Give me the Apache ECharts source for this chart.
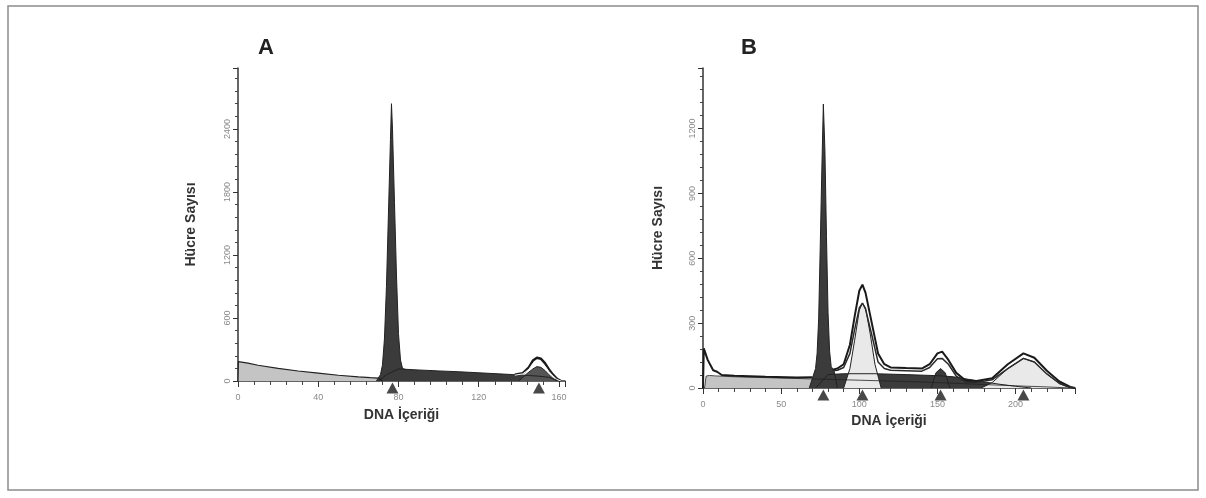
<!DOCTYPE html>
<html>
<head>
<meta charset="utf-8">
<script src="https://cdn.jsdelivr.net/npm/echarts@6/dist/echarts.min.js"></script>
<style>
html, body { margin: 0; padding: 0; background: #fff; }
#chart { width: 1206px; height: 498px; }
</style>
</head>
<body>
<div id="chart"></div>
<script>
// Panel A
var aDebrisX = [0, 0.2, 5, 10, 20, 30, 40, 50, 60, 66, 70, 72];
var aDebrisY = [0, 185, 170, 150, 120, 95, 75, 55, 40, 32, 28, 0];
var aSX = [70, 74, 80, 90, 100, 110, 120, 130, 140, 145, 150, 155, 158, 160];
var aSY = [0, 60, 115, 105, 96, 88, 78, 68, 58, 52, 46, 35, 12, 0];
var aG1X = [69, 71, 72, 73, 74, 75, 76, 76.5, 77, 78, 79, 80, 81, 82, 84];
var aG1Y = [0, 60, 150, 400, 900, 1600, 2300, 2640, 2400, 1700, 1000, 450, 200, 120, 105];
var aG2X = [140, 144, 147, 149, 151, 153, 155, 157, 159];
var aG2Y = [0, 70, 115, 137, 130, 100, 60, 25, 0];
var aEnvX = [138, 142, 145, 147, 149, 151, 153, 155, 157, 159, 161];
var aEnvY = [60, 75, 130, 195, 222, 212, 170, 110, 60, 20, 0];
var aInnerY = [55, 68, 112, 168, 188, 180, 142, 90, 48, 14, 0];
var aMarks = [77, 150];

// Panel B
var bDebrisX = [1, 2, 4, 8, 20, 40, 60, 80, 100, 120, 140, 160, 180, 200, 220, 235];
var bDebrisY = [0, 55, 58, 56, 52, 48, 44, 40, 36, 32, 28, 22, 16, 10, 5, 0];
var bSX = [72, 80, 90, 110, 130, 150, 160, 170, 180, 190, 200, 210];
var bSY = [0, 62, 66, 66, 62, 57, 52, 40, 28, 17, 8, 0];
var bG1X = [68, 70, 72, 73, 74, 75, 76, 77, 78, 79, 80, 81, 82, 84, 86];
var bG1Y = [0, 45, 90, 160, 320, 650, 1000, 1313, 1100, 700, 350, 170, 100, 75, 0];
var bG2X = [90, 94, 97, 100, 102, 104, 107, 110, 114];
var bG2Y = [0, 90, 220, 360, 393, 370, 250, 110, 0];
var bP3X = [146, 149, 152, 155, 158];
var bP3Y = [0, 70, 90, 70, 0];
var bG3X = [178, 185, 195, 205, 212, 220, 228, 235];
var bG3Y = [0, 25, 90, 137, 120, 65, 20, 0];
var bLeftX = [0, 0.5, 3, 6.5, 9, 12, 20, 40, 60, 70];
var bLeftY = [0, 183, 130, 82, 75, 60, 57, 52, 48, 50];
var bEnvX = [83, 86, 90, 94, 97, 100, 102, 104, 108, 112, 116, 120, 130, 140, 145, 150, 153, 157, 162, 168, 175, 185, 195, 205, 212, 220, 228, 235, 238];
var bEnvY = [85, 90, 110, 200, 330, 450, 478, 440, 300, 160, 110, 95, 92, 90, 110, 160, 168, 130, 70, 35, 32, 45, 110, 160, 140, 80, 30, 5, 0];
var bInnerY = [80, 82, 95, 160, 270, 370, 393, 365, 245, 120, 90, 82, 80, 78, 95, 135, 137, 110, 55, 28, 26, 38, 90, 137, 120, 65, 22, 3, 0];
var bMarks = [77, 102, 152, 205];

function pairs(xs, ys) {
    var out = [];
    for (var i = 0; i < xs.length; i++) {
        out.push([xs[i], ys[i]]);
    }
    return out;
}

function marks(xs) {
    return xs.map(function (x) { return [x, 0]; });
}

var lightFill = '#c4c4c4';
var darkFill = '#3b3b3b';
var paleFill = '#e9e9e9';
var bold14 = { fontFamily: 'Liberation Sans', fontWeight: 'bold', fontSize: 14, color: '#333' };

function area(name, data, fill, ax, lw) {
    return {
        name: name,
        type: 'line',
        xAxisIndex: ax,
        yAxisIndex: ax,
        data: data,
        symbol: 'none',
        lineStyle: { color: '#222', width: lw },
        areaStyle: { color: fill, opacity: 1 },
        z: 2
    };
}

function line(name, data, color, width, ax, z) {
    return {
        name: name,
        type: 'line',
        xAxisIndex: ax,
        yAxisIndex: ax,
        data: data,
        symbol: 'none',
        lineStyle: { color: color, width: width },
        z: z
    };
}

function xAxisCfg(grid, max, interval, gap) {
    return {
        type: 'value',
        gridIndex: grid,
        min: 0,
        max: max,
        interval: interval,
        name: 'DNA İçeriği',
        nameLocation: 'middle',
        nameGap: gap,
        nameTextStyle: bold14,
        axisLine: { lineStyle: { color: '#333', width: 1.5 } },
        axisTick: { show: true, length: 6, lineStyle: { color: '#333' } },
        minorTick: { show: true, splitNumber: 5, length: 4, lineStyle: { color: '#444' } },
        splitLine: { show: false },
        axisLabel: {
            color: '#8a8a8a',
            fontSize: 9,
            fontFamily: 'Liberation Sans',
            margin: 12,
            formatter: function (v) { return v % interval === 0 && v < max ? String(v) : ''; }
        }
    };
}

function yAxisCfg(grid, max, interval, gap) {
    return {
        type: 'value',
        gridIndex: grid,
        min: 0,
        max: max,
        interval: interval,
        name: 'Hücre Sayısı',
        nameLocation: 'middle',
        nameGap: gap,
        nameTextStyle: bold14,
        axisLine: { show: true, lineStyle: { color: '#333', width: 1.5 } },
        axisTick: { show: true, length: 5, lineStyle: { color: '#333' } },
        minorTick: { show: true, splitNumber: 5, length: 3, lineStyle: { color: '#444' } },
        splitLine: { show: false },
        axisLabel: {
            color: '#8a8a8a',
            fontSize: 9,
            rotate: 90,
            margin: 6,
            fontFamily: 'Liberation Sans',
            formatter: function (v) { return v < max ? String(v) : ''; }
        }
    };
}

var option = {
    backgroundColor: '#fff',
    animation: false,
    title: [
        { text: 'A', left: 253, top: 32, textStyle: { fontFamily: 'Liberation Sans', fontSize: 22, fontWeight: 'bold', color: '#222' } },
        { text: 'B', left: 736, top: 32, textStyle: { fontFamily: 'Liberation Sans', fontSize: 22, fontWeight: 'bold', color: '#222' } }
    ],
    graphic: [{
        type: 'rect',
        shape: { x: 8, y: 6, width: 1190, height: 484 },
        style: { fill: 'none', stroke: '#8c8c8c', lineWidth: 1.5 },
        silent: true
    }],
    grid: [
        { left: 238, top: 68, width: 327, height: 313 },
        { left: 703, top: 68, width: 372, height: 320 }
    ],
    xAxis: [
        xAxisCfg(0, 163, 40, 27),
        xAxisCfg(1, 238, 50, 24)
    ],
    yAxis: [
        yAxisCfg(0, 2980, 600, 40),
        yAxisCfg(1, 1480, 300, 38)
    ],
    series: [
        area('A debris', pairs(aDebrisX, aDebrisY), lightFill, 0, 1.2),
        area('A S', pairs(aSX, aSY), darkFill, 0, 1),
        area('A G2', pairs(aG2X, aG2Y), '#555', 0, 1),
        line('A env', pairs(aEnvX, aEnvY), '#1a1a1a', 2.5, 0, 4),
        line('A inner', pairs(aEnvX, aInnerY), '#ffffff', 1, 0, 5),
        area('A G1', pairs(aG1X, aG1Y), darkFill, 0, 1),
        {
            type: 'scatter', xAxisIndex: 0, yAxisIndex: 0, data: marks(aMarks),
            symbol: 'triangle', symbolSize: [12, 11], symbolOffset: [0, 7],
            itemStyle: { color: '#1a1a1a' }, clip: false, z: 6
        },

        area('B debris', pairs(bDebrisX, bDebrisY), lightFill, 1, 0.8),
        area('B S', pairs(bSX, bSY), darkFill, 1, 1),
        area('B G2', pairs(bG2X, bG2Y), paleFill, 1, 1),
        area('B peak3', pairs(bP3X, bP3Y), darkFill, 1, 1),
        area('B G3', pairs(bG3X, bG3Y), paleFill, 1, 1),
        line('B left', pairs(bLeftX, bLeftY), '#1a1a1a', 2, 1, 4),
        line('B env', pairs(bEnvX, bEnvY), '#1a1a1a', 2, 1, 4),
        line('B inner', pairs(bEnvX, bInnerY), '#2a2a2a', 1.5, 1, 4),
        area('B G1', pairs(bG1X, bG1Y), darkFill, 1, 1),
        {
            type: 'scatter', xAxisIndex: 1, yAxisIndex: 1, data: marks(bMarks),
            symbol: 'triangle', symbolSize: [12, 11], symbolOffset: [0, 7],
            itemStyle: { color: '#1a1a1a' }, clip: false, z: 6
        }
    ]
};

var chart = echarts.init(document.getElementById('chart'));
chart.setOption(option);
</script>
</body>
</html>
